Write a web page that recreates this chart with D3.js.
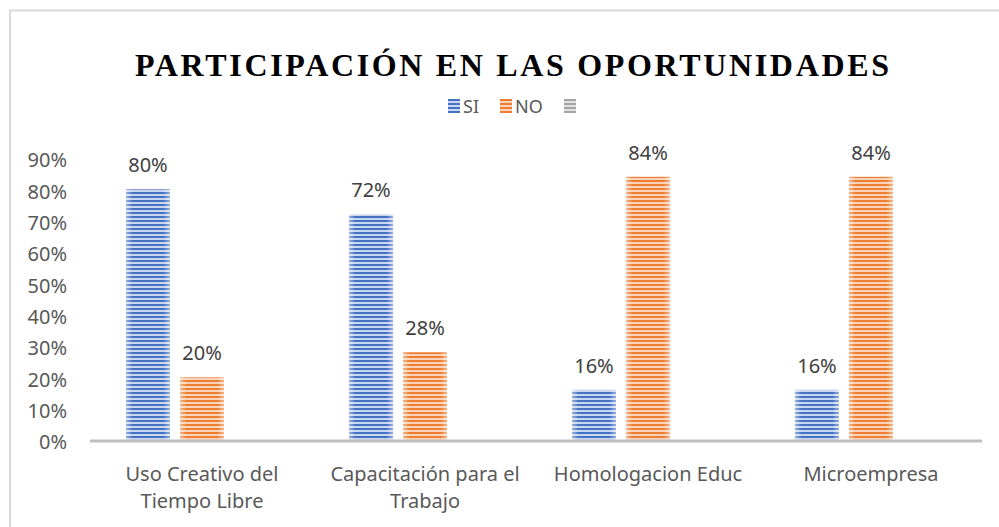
<!DOCTYPE html>
<html>
<head>
<meta charset="utf-8">
<script src="https://cdn.jsdelivr.net/npm/d3@7"></script>
<style>
  html, body { margin: 0; padding: 0; background: #fff; }
  svg { display: block; }
</style>
</head>
<body>
<div id="chart"></div>
<script>
// Data
var categories = ["Uso Creativo del|Tiempo Libre", "Capacitación para el|Trabajo", "Homologacion Educ", "Microempresa"];
var seriesNames = ["SI", "NO", ""];
var siValues = [0.80, 0.72, 0.16, 0.16];
var noValues = [0.20, 0.28, 0.84, 0.84];
var emptyValues = [null, null, null, null];
var yTicks = [0, 0.1, 0.2, 0.3, 0.4, 0.5, 0.6, 0.7, 0.8, 0.9];

var seriesValues = [siValues, noValues, emptyValues];
var colors = ["#4472C4", "#ED7D31", "#A5A5A5"];
var lightColors = ["#c9d6ef", "#f9d3b9", "#e0e0e0"];

var width = 999, height = 527;
var fontFamily = "'Noto Sans', 'Open Sans', sans-serif";

var svg = d3.select("#chart").append("svg")
    .attr("width", width)
    .attr("height", height);

// Stripe patterns for the bars
var defs = svg.append("defs");
seriesNames.forEach(function(s, i) {
    var p = defs.append("pattern")
        .attr("id", "stripe" + i)
        .attr("patternUnits", "userSpaceOnUse")
        .attr("width", 8)
        .attr("height", 4);
    p.append("rect").attr("width", 8).attr("height", 4).attr("fill", lightColors[i]);
    p.append("rect").attr("width", 8).attr("height", 2).attr("fill", colors[i]);
});
// soft light edges on each bar
var edge = defs.append("linearGradient").attr("id", "edgeGlow");
edge.append("stop").attr("offset", "0%").attr("stop-color", "#fff").attr("stop-opacity", 0.45);
edge.append("stop").attr("offset", "15%").attr("stop-color", "#fff").attr("stop-opacity", 0);
edge.append("stop").attr("offset", "85%").attr("stop-color", "#fff").attr("stop-opacity", 0);
edge.append("stop").attr("offset", "100%").attr("stop-color", "#fff").attr("stop-opacity", 0.45);

// Chart border
svg.append("rect")
    .attr("x", 10).attr("y", 10.5)
    .attr("width", 1200).attr("height", 1000)
    .attr("fill", "none")
    .attr("stroke", "#d9d9d9")
    .attr("stroke-width", 2);

// Title
svg.append("text")
    .attr("x", 512)
    .attr("y", 76)
    .attr("text-anchor", "middle")
    .attr("textLength", 754)
    .attr("lengthAdjust", "spacing")
    .style("font-family", "'Liberation Serif', 'Times New Roman', serif")
    .style("font-weight", "bold")
    .style("font-size", "32px")
    .style("fill", "#000")
    .text("PARTICIPACIÓN EN LAS OPORTUNIDADES");

// Scales
var x0 = d3.scaleBand().domain(categories).range([90.5, 982.5]).paddingInner(0).paddingOuter(0);
var x1 = d3.scaleBand().domain(seriesNames.map(function(d, i) { return i; }))
    .range([0, x0.bandwidth()])
    .paddingInner(0.185)
    .paddingOuter(0.657);
var y = d3.scaleLinear().domain([0, 0.9]).range([440, 158]);

// Y axis labels
var yAxis = d3.axisLeft(y).tickValues(yTicks).tickSize(0).tickPadding(0)
    .tickFormat(d3.format(".0%"));
var yG = svg.append("g")
    .attr("transform", "translate(67,0)")
    .call(yAxis);
yG.select(".domain").remove();
yG.selectAll("text")
    .attr("dy", "0.34em")
    .attr("y", 2)
    .style("font-family", fontFamily)
    .style("font-size", "20px")
    .style("fill", "#595959");

// Bars
var groups = svg.append("g").selectAll("g")
    .data(categories)
    .join("g")
    .attr("transform", function(d) { return "translate(" + x0(d) + ",0)"; });

var barData = function(c, ci) {
    return seriesNames.map(function(s, si) {
        return { s: si, v: seriesValues[si][ci] };
    }).filter(function(d) { return d.v !== null; });
};

groups.each(function(c, ci) {
    var g = d3.select(this);
    var bd = barData(c, ci);
    g.selectAll("rect.bar")
        .data(bd)
        .join("rect")
        .attr("class", "bar")
        .attr("x", function(d) { return x1(d.s); })
        .attr("y", function(d) { return y(d.v); })
        .attr("width", x1.bandwidth())
        .attr("height", function(d) { return y(0) - y(d.v); })
        .attr("fill", function(d) { return "url(#stripe" + d.s + ")"; });
    g.selectAll("rect.glow")
        .data(bd)
        .join("rect")
        .attr("class", "glow")
        .attr("x", function(d) { return x1(d.s); })
        .attr("y", function(d) { return y(d.v); })
        .attr("width", x1.bandwidth())
        .attr("height", function(d) { return y(0) - y(d.v); })
        .attr("fill", "url(#edgeGlow)");
    // Data labels
    g.selectAll("text.lbl")
        .data(bd)
        .join("text")
        .attr("class", "lbl")
        .attr("x", function(d) { return x1(d.s) + x1.bandwidth() / 2; })
        .attr("y", function(d) { return y(d.v) - 17; })
        .attr("text-anchor", "middle")
        .style("font-family", fontFamily)
        .style("font-size", "20px")
        .style("fill", "#404040")
        .text(function(d) { return d3.format(".0%")(d.v); });
});

// Baseline
svg.append("line")
    .attr("x1", 90).attr("x2", 982)
    .attr("y1", y(0) + 1).attr("y2", y(0) + 1)
    .attr("stroke", "#bfbfbf")
    .attr("stroke-width", 3);

// Category labels
var xAxis = d3.axisBottom(x0).tickSize(0).tickFormat("");
var xG = svg.append("g").attr("transform", "translate(0,442)").call(xAxis);
xG.select(".domain").remove();
xG.selectAll(".tick").each(function(d) {
    var t = d3.select(this).append("text")
        .attr("text-anchor", "middle")
        .style("font-family", fontFamily)
        .style("font-size", "20px")
        .style("fill", "#595959");
    d.split("|").forEach(function(line, i) {
        t.append("tspan").attr("x", 0).attr("y", 39 + i * 27).text(line);
    });
});

// Legend
var legendX = [448, 500, 564];
var legend = svg.append("g").selectAll("g")
    .data(seriesNames)
    .join("g")
    .attr("transform", function(d, i) { return "translate(" + legendX[i] + ",99)"; });
legend.append("rect")
    .attr("width", 12).attr("height", 14)
    .attr("fill", function(d, i) { return "url(#stripe" + i + ")"; });
legend.append("text")
    .attr("x", 15)
    .attr("y", 13.5)
    .style("font-family", fontFamily)
    .style("font-size", "18px")
    .style("fill", "#595959")
    .text(function(d) { return d; });
</script>
</body>
</html>
